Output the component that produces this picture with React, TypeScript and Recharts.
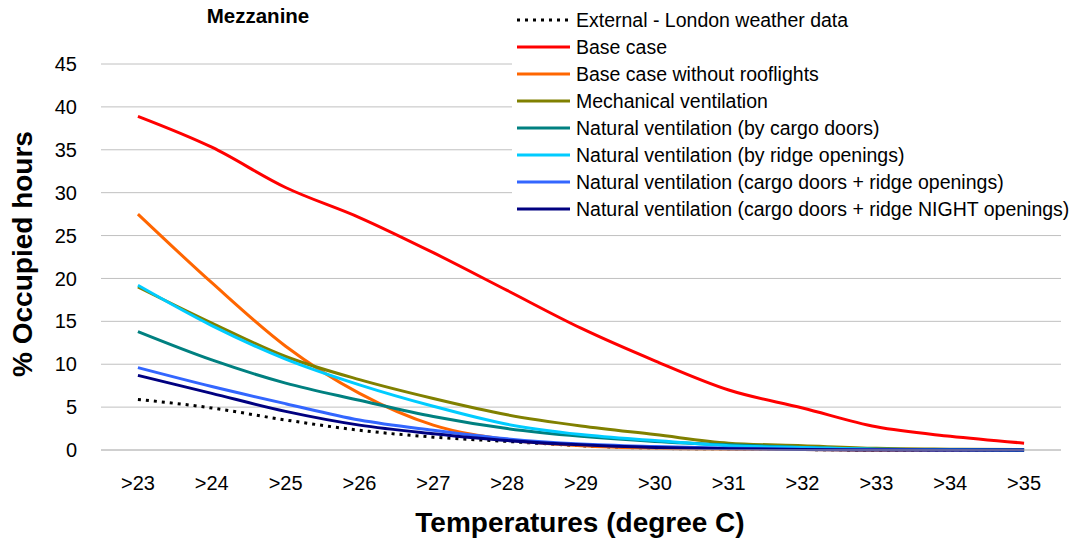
import { LineChart, Line, XAxis, YAxis, CartesianGrid } from 'recharts';

const cats = ['>23', '>24', '>25', '>26', '>27', '>28', '>29', '>30', '>31', '>32', '>33', '>34', '>35'];
const yTicks = [0, 5, 10, 15, 20, 25, 30, 35, 40, 45];

const external = [5.9, 4.9, 3.5, 2.3, 1.5, 1.0, 0.5, 0.2, 0.1, 0.05, 0, 0, 0];
const baseCase = [38.9, 35.3, 30.6, 27.1, 23.0, 18.6, 14.2, 10.4, 7.0, 4.9, 2.7, 1.6, 0.8];
const noRooflights = [27.5, 19.5, 12.1, 6.6, 2.9, 1.2, 0.5, 0.2, 0.1, 0.05, 0, 0, 0];
const mechanical = [19.0, 14.8, 10.9, 8.2, 6.0, 4.1, 2.8, 1.8, 0.8, 0.5, 0.2, 0.1, 0.05];
const cargoDoors = [13.8, 10.5, 7.8, 5.8, 3.9, 2.5, 1.6, 1.0, 0.6, 0.3, 0.1, 0.05, 0];
const ridge = [19.2, 14.5, 10.6, 7.6, 5.1, 3.0, 1.8, 1.1, 0.5, 0.3, 0.1, 0.05, 0];
const cargoRidge = [9.6, 7.4, 5.4, 3.5, 2.3, 1.3, 0.7, 0.4, 0.2, 0.1, 0.05, 0, 0];
const cargoRidgeNight = [8.7, 6.6, 4.5, 2.9, 1.9, 1.1, 0.6, 0.3, 0.15, 0.05, 0, 0, 0];

const series = [
  { key: 'external', name: 'External - London weather data', color: '#000000', dash: '3 5', values: external },
  { key: 'base', name: 'Base case', color: '#FF0000', values: baseCase },
  { key: 'noroof', name: 'Base case without rooflights', color: '#FF6600', values: noRooflights },
  { key: 'mech', name: 'Mechanical ventilation', color: '#808000', values: mechanical },
  { key: 'cargo', name: 'Natural ventilation (by cargo doors)', color: '#008080', values: cargoDoors },
  { key: 'ridge', name: 'Natural ventilation (by ridge openings)', color: '#00CCFF', values: ridge },
  { key: 'cargoRidge', name: 'Natural ventilation (cargo doors + ridge openings)', color: '#3366FF', values: cargoRidge },
  { key: 'night', name: 'Natural ventilation (cargo doors + ridge NIGHT openings)', color: '#000080', values: cargoRidgeNight },
];

const rows = cats.map((c, i) => {
  const r: Record<string, number | string> = { idx: i, cat: c };
  series.forEach((s) => (r[s.key] = s.values[i]));
  return r;
});

const idxs = cats.map((_, i) => i);
const bounds = [...idxs.map((i) => i - 0.5), cats.length - 0.5];

const W = 1078;
const H = 541;
const font = '"Liberation Sans", Arial, sans-serif';
const grid = '#c0c0c0';

export default function App() {
  return (
    <div style={{ position: 'absolute', left: 0, top: 0, width: W, height: H, background: '#fff', fontFamily: font }}>
      <LineChart width={W} height={H} data={rows} margin={{ top: 64, right: 17, bottom: 45, left: 0 }}>
        <CartesianGrid xAxisId="b" vertical={false} stroke={grid} />
        <XAxis
          xAxisId="a" type="number" dataKey="idx" domain={[-0.5, cats.length - 0.5]}
          ticks={bounds} tick={false} tickSize={6} height={6}
          axisLine={{ stroke: grid }} tickLine={{ stroke: grid }}
        />
        <XAxis
          xAxisId="b" type="number" dataKey="idx" domain={[-0.5, cats.length - 0.5]}
          ticks={idxs} interval={0} tickFormatter={(v) => cats[v]}
          axisLine={false} tickLine={false} tickSize={0} tickMargin={20} height={40}
          tick={{ fill: '#000', fontSize: 20, fontFamily: font }}
        />
        <YAxis
          type="number" domain={[0, 45]} ticks={yTicks} width={101}
          axisLine={false} tickLine={false} tickSize={0} tickMargin={24}
          tick={{ fill: '#000', fontSize: 20, fontFamily: font }}
        />
        {series.map((s) => (
          <Line
            key={s.key} xAxisId="b" type="monotone" dataKey={s.key} name={s.name}
            stroke={s.color} strokeWidth={3} strokeDasharray={s.dash}
            dot={false} activeDot={false} isAnimationActive={false}
          />
        ))}
      </LineChart>
      <svg width={W} height={H} style={{ position: 'absolute', left: 0, top: 0, pointerEvents: 'none' }}>
        <text x={258} y={23} textAnchor="middle" fontSize={20.5} fontWeight="bold" fontFamily={font}>Mezzanine</text>
        <rect x={512} y={0} width={W - 512} height={224} fill="#fff" />
        {series.map((s, i) => {
          const cy = 20 + i * 27;
          return (
            <g key={s.key}>
              <line x1={517} x2={570} y1={cy} y2={cy} stroke={s.color} strokeWidth={3} strokeDasharray={s.dash} />
              <text x={576} y={cy + 7} fontSize={19.5} fontFamily={font} fill="#000">{s.name}</text>
            </g>
          );
        })}
        <text x={580} y={532} textAnchor="middle" fontSize={28} fontWeight="bold" fontFamily={font}>Temperatures (degree C)</text>
        <text transform="translate(32,254) rotate(-90)" textAnchor="middle" fontSize={28} fontWeight="bold" fontFamily={font}>% Occupied hours</text>
      </svg>
    </div>
  );
}
